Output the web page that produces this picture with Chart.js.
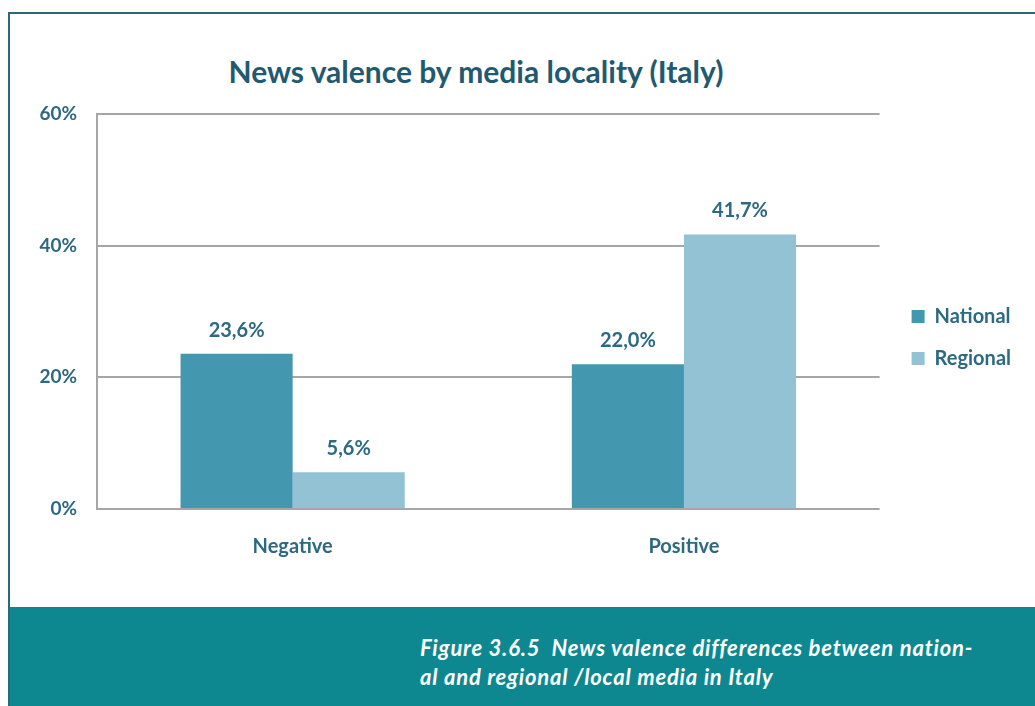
<!DOCTYPE html>
<html>
<head>
<meta charset="utf-8">
<script src="https://cdn.jsdelivr.net/npm/chart.js@4.4.1/dist/chart.umd.min.js"></script>
<style>
  body { margin: 0; background: #fff; width: 1035px; height: 706px; overflow: hidden; position: relative; font-family: Lato, sans-serif; }
  #frame { position: absolute; left: 8px; top: 12px; right: -5px; bottom: -5px; border-left: 2px solid #2a6a78; border-top: 2px solid #2a6a78; }
  #title { position: absolute; top: 53px; left: 0; width: 952px; text-align: center; font: bold 30px Lato, sans-serif; color: #1f5a70; }
  #chartBox { position: absolute; left: 0; top: 0; width: 1035px; height: 600px; }
  #footer { position: absolute; left: 10px; top: 607px; right: 0; bottom: 0; background: #0e8890; }
  #caption { position: absolute; left: 420px; top: 633px; color: #fff; font: italic bold 22px Lato, sans-serif; letter-spacing: 0.8px; line-height: 29px; }
</style>
</head>
<body>
<div id="frame"></div>
<div id="title">News valence by media locality (Italy)</div>
<div id="chartBox"><canvas id="output"></canvas></div>
<div id="footer"></div>
<div id="caption">Figure 3.6.5&nbsp; News valence differences between nation-<br>al and regional /local media in Italy</div>
<script>
// categories and series (percent)
const categories = ['Negative', 'Positive'];
const nationalValues = [23.6, 22.0];
const regionalValues = [5.6, 41.7];
const yTicks = [0, 20, 40, 60];

const textColor = '#2c6a82';
const gridColor = '#a6a6a6';

// value labels above the bars, with comma decimals
const valueLabels = {
    id: 'valueLabels',
    afterDatasetsDraw(chart) {
        const ctx = chart.ctx;
        ctx.save();
        ctx.font = 'bold 20px Lato';
        ctx.fillStyle = textColor;
        ctx.textAlign = 'center';
        chart.data.datasets.forEach((ds, i) => {
            chart.getDatasetMeta(i).data.forEach((bar, j) => {
                const txt = ds.data[j].toFixed(1).replace('.', ',') + '%';
                ctx.fillText(txt, bar.x, bar.y - 17);
            });
        });
        ctx.restore();
    }
};

// nudge the legend a little to sit where the original has it
const legendNudge = {
    id: 'legendNudge',
    afterLayout(chart) {
        const lg = chart.legend;
        lg.left += 10; lg.right += 10;
        lg.top -= 4; lg.bottom -= 4;
    }
};

const ctx = document.getElementById('output').getContext('2d');

new Chart(ctx, {
    type: 'bar',
    data: {
        labels: categories,
        datasets: [
            { label: 'National', data: nationalValues, backgroundColor: '#4397ae' },
            { label: 'Regional', data: regionalValues, backgroundColor: '#93c2d4' }
        ]
    },
    options: {
        responsive: true,
        maintainAspectRatio: false,
        animation: false,
        categoryPercentage: 0.573,
        barPercentage: 1,
        layout: { padding: { top: 114, left: 0, right: 24, bottom: 31 } },
        plugins: {
            title: { display: false },
            tooltip: { enabled: false },
            legend: {
                position: 'right',
                labels: {
                    boxWidth: 13,
                    boxHeight: 13,
                    padding: 22,
                    color: textColor,
                    font: { family: 'Lato', size: 20, weight: 'bold' }
                }
            }
        },
        scales: {
            x: {
                grid: { display: false, drawTicks: false },
                border: { display: false },
                ticks: {
                    color: textColor,
                    padding: 26,
                    font: { family: 'Lato', size: 20, weight: 'bold' }
                },
                afterFit(scale) { scale.height = 60; }
            },
            y: {
                min: 0,
                max: 60,
                afterBuildTicks(scale) { scale.ticks = yTicks.map(v => ({ value: v })); },
                grid: { color: gridColor, lineWidth: 2, drawTicks: false },
                border: { display: true, color: gridColor, width: 2 },
                ticks: {
                    color: textColor,
                    padding: 20,
                    font: { family: 'Lato', size: 19, weight: 'bold' },
                    callback: v => v + '%'
                },
                afterFit(scale) { scale.width = 97; }
            }
        }
    },
    plugins: [valueLabels, legendNudge]
});
</script>
</body>
</html>
